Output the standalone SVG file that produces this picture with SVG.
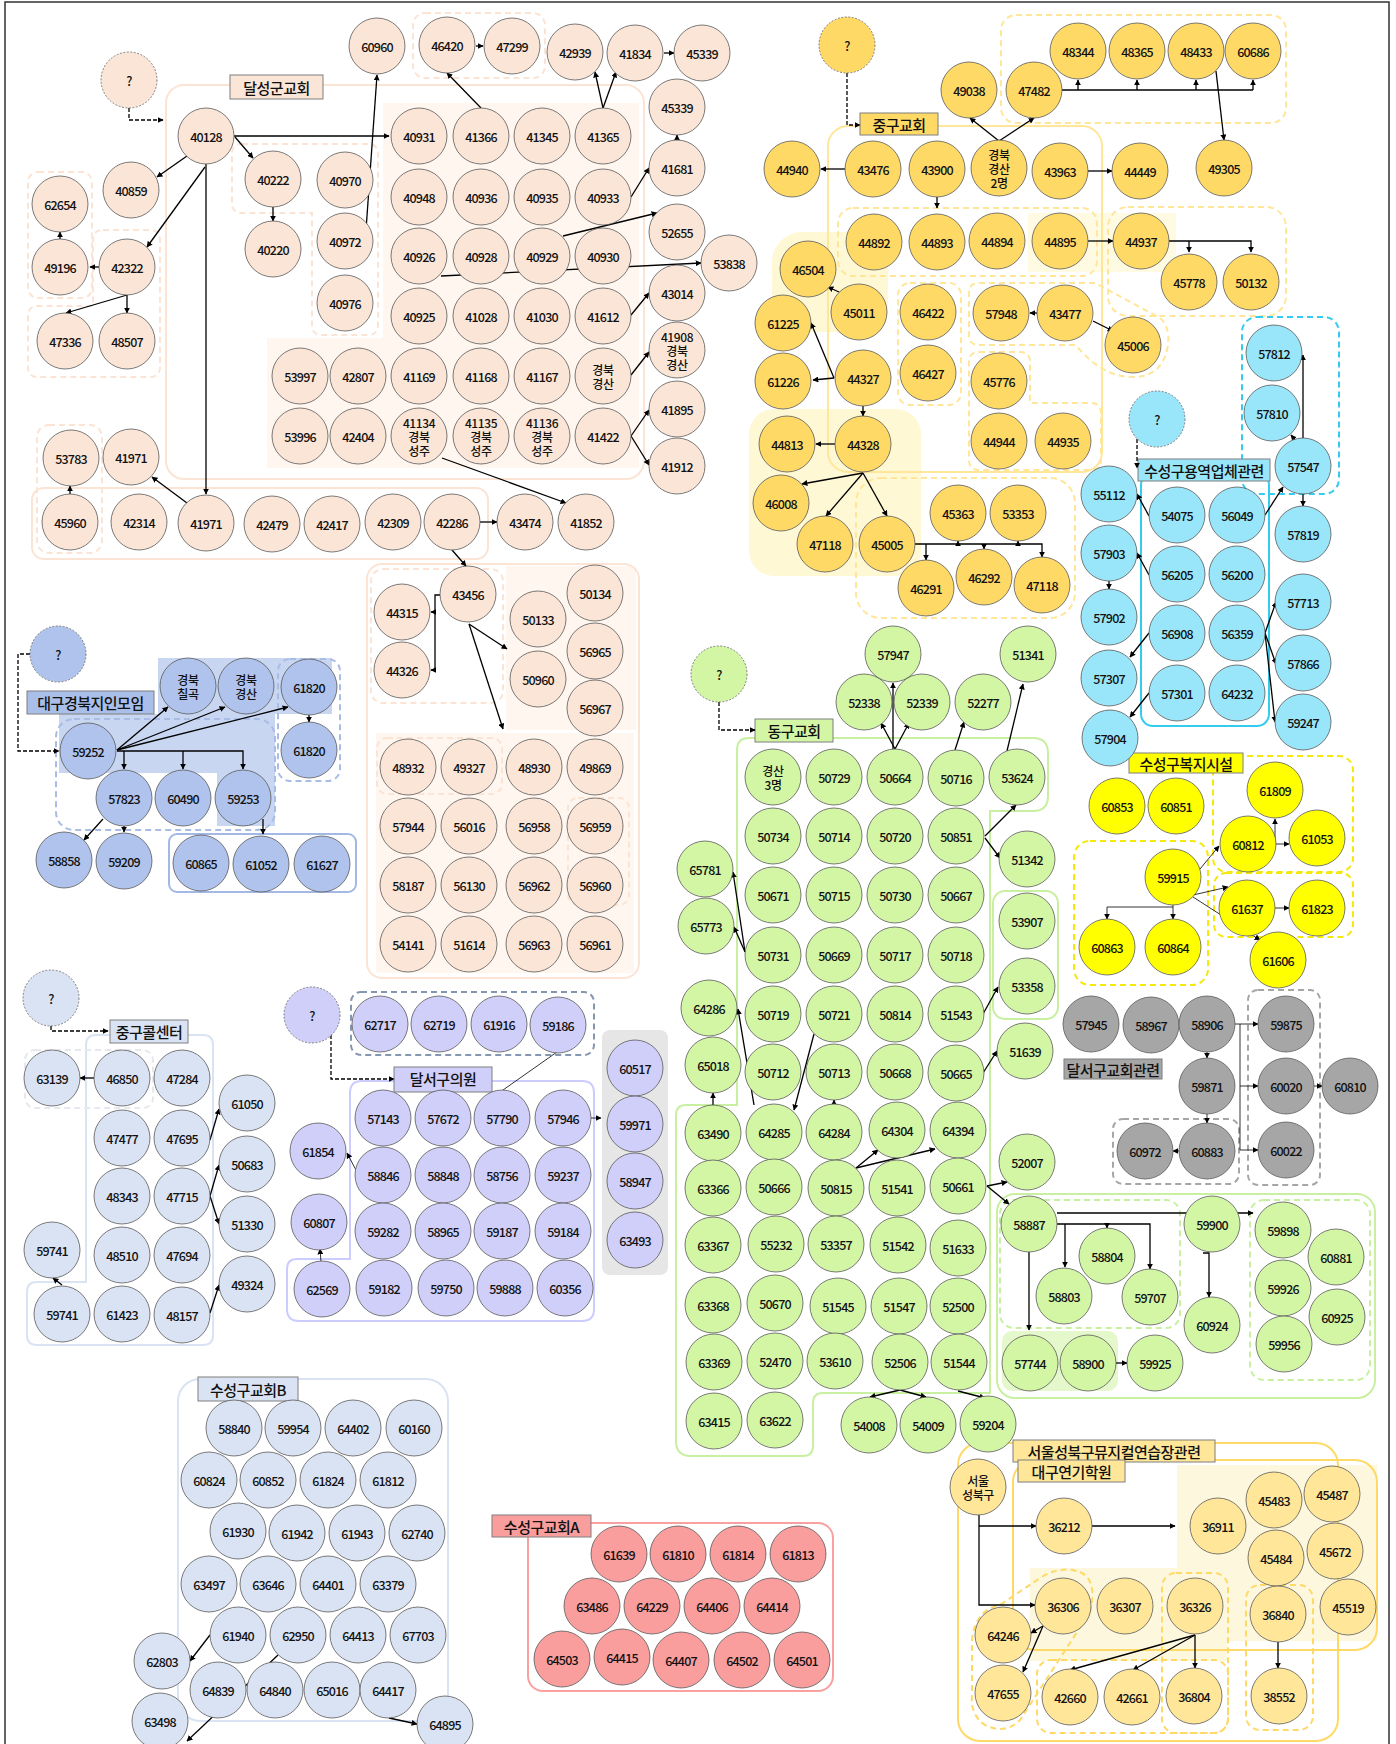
<svg xmlns="http://www.w3.org/2000/svg" width="1396" height="1744" viewBox="0 0 1396 1744">
<defs>
<marker id="a" viewBox="0 0 10 10" refX="9" refY="5" markerWidth="6" markerHeight="6" markerUnits="userSpaceOnUse" orient="auto"><path d="M0,0L10,5L0,10z" fill="#000"/></marker>
<style>
circle{stroke:#595959;stroke-width:0.8}
.pe circle{fill:#FBE5D6}.yo circle{fill:#FFD966}.cy circle{fill:#99E6FA}.bl circle{fill:#AFC3EC}
.lb circle{fill:#DAE3F3}.pu circle{fill:#CFCFFA}.gr circle{fill:#D3F6A5}.ye circle{fill:#FFFF00}
.gy circle{fill:#A6A6A6}.rd circle{fill:#F99D9D}.ly circle{fill:#FFE699}
.q circle{stroke-dasharray:2 1.5;stroke:#666}
text{font-family:"Noto Sans CJK KR","Liberation Sans",sans-serif;font-size:12.5px;font-weight:500;letter-spacing:-0.8px;text-anchor:middle;dominant-baseline:central;fill:#111}
.k text{font-size:12px;letter-spacing:-0.4px}
.lab text{font-size:15px;letter-spacing:-0.5px}
.lab rect{stroke:#7F7F7F;stroke-width:1}
.e path{fill:none;stroke:#000;stroke-width:1.3;marker-end:url(#a)}
.e path.d{stroke-dasharray:4 2}
.e path.t{stroke-width:0.8}
.e path.n{marker-end:none}
.c{fill:none;stroke-width:2}
.dd{stroke-dasharray:6 4}
</style>
</defs>
<rect x="5" y="2" width="1384" height="1770" fill="#fff" stroke="#333" stroke-width="1.5"/>

<g id="containers">
<path d="M383,103 H639 V468 H267 V338 H383 Z" fill="#FEF6EF"/>
<rect x="166" y="85" width="478" height="394" rx="18" class="c" stroke="#FCE4D4"/>
<path d="M242,144 H368 Q378,144 378,154 V325 Q378,335 368,335 H322 Q312,335 312,325 V213 H242 Q232,213 232,203 V154 Q232,144 242,144 Z" class="c dd" stroke="#FCE4D4" stroke-width="1.5"/>
<rect x="28" y="172" width="64" height="126" rx="10" class="c dd" stroke="#FCE4D4" stroke-width="1.5"/>
<path d="M103,230 H150 Q160,230 160,240 V367 Q160,377 150,377 H38 Q28,377 28,367 V316 Q28,306 38,306 H93 V240 Q93,230 103,230 Z" class="c dd" stroke="#FCE4D4" stroke-width="1.5"/>
<rect x="413" y="13" width="132" height="65" rx="12" class="c dd" stroke="#FCE4D4" stroke-width="1.5"/>
<rect x="32" y="488" width="456" height="71" rx="12" class="c" stroke="#FCE4D4"/>
<rect x="37" y="425" width="65" height="128" rx="12" class="c dd" stroke="#FCE4D4" stroke-width="1.5"/>
<rect x="506" y="566" width="130" height="164" fill="#FEF6EF"/>
<rect x="376" y="733" width="258" height="240" fill="#FEF6EF"/>
<rect x="367" y="564" width="272" height="414" rx="15" class="c" stroke="#FCE4D4"/>
<rect x="371" y="569" width="132" height="134" rx="12" class="c dd" stroke="#FCE4D4" stroke-width="1.5"/>
<rect x="377" y="738" width="125" height="56" rx="10" class="c dd" stroke="#FCE4D4" stroke-width="1.5"/>
<rect x="568" y="798" width="61" height="107" rx="10" class="c dd" stroke="#FCE4D4" stroke-width="1.5"/>
<rect x="772" y="232" width="116" height="100" rx="30" fill="#FFF8D4"/>
<rect x="749" y="409" width="172" height="167" rx="25" fill="#FFF8D4"/>
<rect x="1028" y="213" width="148" height="59" fill="#FFFBE2"/>
<rect x="828" y="126" width="274" height="346" rx="20" class="c" stroke="#FFE699"/>
<rect x="838" y="208" width="259" height="68" rx="15" class="c dd" stroke="#FFE699"/>
<rect x="1001" y="15" width="285" height="108" rx="15" class="c dd" stroke="#FFE699"/>
<rect x="1108" y="207" width="178" height="109" rx="20" class="c dd" stroke="#FFE699"/>
<rect x="898" y="283" width="63" height="122" rx="12" class="c dd" stroke="#FFE699"/>
<path d="M979,283 H1095 L1160,318 Q1170,326 1168,345 Q1163,377 1133,377 Q1110,377 1090,360 L1075,345 H979 Q969,345 969,335 V293 Q969,283 979,283 Z" class="c dd" stroke="#FFE699"/>
<path d="M979,352 H1020 Q1030,352 1030,362 V403 H1091 Q1101,403 1101,413 V460 Q1101,470 1091,470 H979 Q969,470 969,460 V362 Q969,352 979,352 Z" class="c dd" stroke="#FFE699"/>
<rect x="856" y="478" width="219" height="140" rx="25" class="c dd" stroke="#FFE699"/>
<rect x="1141" y="473" width="128" height="253" rx="12" class="c" stroke="#33CCEE"/>
<rect x="1242" y="317" width="97" height="177" rx="15" class="c dd" stroke="#33CCEE"/>
<path d="M158,658 H332 V714 H275 V826 H217 V773 H59 V714 H158 Z" fill="#C8D6F1"/>
<rect x="56" y="719" width="219" height="111" rx="18" class="c dd" stroke="#A9BCE6"/>
<rect x="278" y="659" width="62" height="122" rx="12" class="c dd" stroke="#A9BCE6"/>
<rect x="169" y="834" width="187" height="58" rx="8" class="c" stroke="#A3B8E5"/>
<path d="M749,738 H1033 Q1048,738 1048,753 V796 Q1048,811 1033,811 H990 V1393 H823 Q813,1393 813,1403 V1446 Q813,1456 803,1456 H691 Q676,1456 676,1441 V1115 Q676,1105 686,1105 H737 V750 Q737,738 749,738 Z" class="c" stroke="#C8F0A0"/>
<rect x="993" y="891" width="65" height="128" rx="12" class="c" stroke="#C8F0A0" stroke-width="1.5"/>
<rect x="1002" y="1331" width="116" height="60" rx="10" fill="#E4F8CC"/>
<rect x="997" y="1194" width="378" height="204" rx="18" class="c" stroke="#C8F0A0"/>
<rect x="1000" y="1200" width="180" height="128" rx="14" class="c dd" stroke="#C8F0A0" stroke-width="1.5"/>
<rect x="1250" y="1200" width="120" height="180" rx="14" class="c dd" stroke="#C8F0A0" stroke-width="1.5"/>
<rect x="1213" y="756" width="140" height="116" rx="14" class="c dd" stroke="#F5E80A"/>
<rect x="1214" y="873" width="139" height="64" rx="12" class="c dd" stroke="#F5E80A"/>
<rect x="1074" y="841" width="134" height="144" rx="16" class="c dd" stroke="#F5E80A"/>
<rect x="1248" y="990" width="72" height="195" rx="10" class="c dd" stroke="#A6A6A6"/>
<rect x="1113" y="1119" width="126" height="65" rx="10" class="c dd" stroke="#A6A6A6"/>
<path d="M96,1035 H203 Q213,1035 213,1045 V1335 Q213,1345 203,1345 H37 Q27,1345 27,1335 V1292 Q27,1282 37,1282 H86 V1045 Q86,1035 96,1035 Z" class="c" stroke="#DAE3F3"/>
<rect x="25" y="1050" width="128" height="58" rx="10" class="c dd" stroke="#E6E8EE" stroke-width="1"/>
<rect x="602" y="1030" width="66" height="245" rx="8" fill="#E7E6E6"/>
<rect x="351" y="992" width="243" height="63" rx="10" class="c dd" stroke="#8497B0"/>
<path d="M362,1081 H582 Q594,1081 594,1093 V1309 Q594,1321 582,1321 H299 Q287,1321 287,1309 V1269 Q287,1259 297,1259 H350 V1093 Q350,1081 362,1081 Z" class="c" stroke="#CCCCFF"/>
<rect x="178" y="1379" width="270" height="342" rx="22" class="c" stroke="#DAE3F3"/>
<rect x="528" y="1523" width="305" height="168" rx="15" class="c" stroke="#F9A0A0"/>
<rect x="1177" y="1465" width="200" height="176" fill="#FDF8DD"/>
<rect x="1030" y="1568" width="197" height="93" fill="#FDF8DD"/>
<rect x="958" y="1443" width="380" height="298" rx="22" class="c" stroke="#FFD966"/>
<rect x="1013" y="1460" width="364" height="190" rx="22" class="c" stroke="#FFD966"/>
<path d="M1080,1572 Q1098,1580 1090,1612 L1020,1720 Q1005,1735 985,1725 Q970,1715 972,1695 V1640 Q975,1610 1000,1605 L1040,1578 Q1060,1565 1080,1572 Z" class="c dd" stroke="#FFD966"/>
<rect x="1037" y="1660" width="191" height="73" rx="14" class="c dd" stroke="#FFD966"/>
<rect x="1162" y="1573" width="66" height="160" rx="14" class="c dd" stroke="#FFD966"/>
<rect x="1246" y="1585" width="67" height="145" rx="14" class="c dd" stroke="#FFD966"/>
</g>

<g id="labels" class="lab">
<g id="l-dalseong"><rect x="230" y="75" width="93" height="24" fill="#FBE5D6"/><text x="276.5" y="87">달성군교회</text></g>
<g id="l-junggu"><rect x="860" y="113" width="78" height="22" fill="#FFD966"/><text x="899" y="124">중구교회</text></g>
<g id="l-yongyeok"><rect x="1138" y="459" width="132" height="22" fill="#99E6FA"/><text x="1204" y="470">수성구용역업체관련</text></g>
<g id="l-bokji"><rect x="1129" y="753" width="114" height="20" fill="#FFFF00"/><text x="1186" y="763">수성구복지시설</text></g>
<g id="l-daegu"><rect x="27" y="691" width="127" height="23" fill="#A9BFEA"/><text x="90.5" y="702.5">대구경북지인모임</text></g>
<g id="l-donggu"><rect x="755" y="719" width="78" height="23" fill="#D3F6A5"/><text x="794" y="730.5">동구교회</text></g>
<g id="l-dalseo"><rect x="1064" y="1059" width="98" height="20" fill="#A6A6A6"/><text x="1113" y="1069">달서구교회관련</text></g>
<g id="l-call"><rect x="110" y="1020" width="78" height="23" fill="#DAE3F3"/><text x="149" y="1031.5">중구콜센터</text></g>
<g id="l-uiwon"><rect x="394" y="1067" width="98" height="25" fill="#CFCFFA"/><text x="443" y="1078">달서구의원</text></g>
<g id="l-b"><rect x="198" y="1377" width="100" height="24" fill="#DAE3F3"/><text x="248" y="1389">수성구교회B</text></g>
<g id="l-a"><rect x="492" y="1515" width="99" height="22" fill="#F99D9D"/><text x="541.5" y="1526">수성구교회A</text></g>
<g id="l-seoul"><rect x="1013" y="1440" width="202" height="22" fill="#FFE699"/><text x="1114" y="1451">서울성북구뮤지컬연습장관련</text></g>
<g id="l-acting"><rect x="1018" y="1460" width="107" height="22" fill="#FFE699"/><text x="1071.5" y="1471">대구연기학원</text></g>
</g>

<g id="edges" class="e">
<path class="d" d="M129,108 V120 H163"/>
<path d="M234,136 H389"/>
<path d="M235,137 L253,158"/>
<path d="M187,156 L157,177"/>
<path d="M205,167 L147,247"/>
<path d="M206,164 V494"/>
<path d="M273,207 V221"/>
<path d="M366,230 L377,75"/>
<path d="M99,267 H90"/>
<path d="M60,239 V232"/>
<path d="M127,295 L66,313"/>
<path d="M127,295 V313"/>
<path d="M481,108 L447,73"/>
<path d="M476,46 H483"/>
<path d="M603,108 L595,72"/>
<path d="M603,108 L616,72"/>
<path d="M664,53 H674"/>
<path d="M677,140 V135"/>
<path d="M631,197 L649,168"/>
<path d="M563,236 L657,213"/>
<path d="M441,276 L701,263"/>
<path d="M631,315 L649,293"/>
<path d="M631,375 L649,352"/>
<path d="M631,436 L649,410"/>
<path d="M631,436 L649,465"/>
<path d="M442,458 L566,503"/>
<path d="M187,503 L152,477"/>
<path d="M70,494 V486"/>
<path d="M480,522 H497"/>
<path d="M452,550 L466,566"/>
<path d="M440,595 H435 V670 H431"/>
<path d="M435,612 H431"/>
<path d="M469,624 L507,649"/>
<path d="M469,624 L503,729"/>
<path class="d" d="M847,73 V125 H860"/>
<path d="M845,169 H821"/>
<path d="M937,197 V208"/>
<path d="M999,141 L970,118"/>
<path d="M999,141 L1034,118"/>
<path class="n" d="M1062,90 H1253"/>
<path d="M1078,90 V80"/><path d="M1137,90 V80"/><path d="M1196,90 V80"/><path d="M1253,90 V80"/>
<path d="M1216,71 L1224,140"/>
<path d="M1088,171 H1112"/>
<path d="M1088,241 H1113"/>
<path d="M1169,241 H1251 V252"/>
<path d="M1189,241 V252"/>
<path d="M1037,313 H1030"/>
<path d="M1093,321 L1113,331"/>
<path d="M839,292 L828,287"/>
<path d="M834,378 L811,323"/>
<path d="M834,378 L813,380"/>
<path d="M863,406 V416"/>
<path d="M835,444 H816"/>
<path d="M863,473 L802,484"/>
<path d="M863,473 L826,516"/>
<path d="M863,473 L887,516"/>
<path d="M915,544 H1042 V557"/>
<path d="M926,544 V560"/><path d="M984,544 V549"/><path d="M958,544 V541"/><path d="M1018,544 V541"/>
<path class="d" d="M1137,439 V468"/>
<path d="M1149,516 L1137,494"/>
<path d="M1149,575 L1137,553"/>
<path d="M1109,581 V589"/>
<path d="M1149,633 L1130,657"/>
<path d="M1149,693 L1130,717"/>
<path d="M1265,515 L1283,487"/>
<path d="M1303,494 V506"/>
<path d="M1303,438 V355"/>
<path d="M1296,441 L1291,435"/>
<path d="M1265,633 L1276,602"/>
<path d="M1265,633 L1276,664"/>
<path d="M1265,633 L1275,722"/>
<path class="d" d="M30,654 H18 V751 H59"/>
<path d="M117,750 L168,707"/>
<path d="M117,750 L225,707"/>
<path d="M117,750 L288,707"/>
<path d="M117,751 H243 V769"/>
<path d="M124,751 V769"/><path d="M183,751 V769"/>
<path d="M103,819 L84,840"/>
<path d="M124,826 V832"/>
<path d="M263,819 V834"/>
<path d="M309,715 V722"/>
<path class="d" d="M719,702 V730 H755"/>
<path d="M895,749 L881,723"/>
<path d="M893,749 V683"/>
<path d="M895,749 L909,723"/>
<path d="M955,750 L964,722"/>
<path d="M1007,751 L1023,684"/>
<path d="M985,836 L1016,805"/>
<path d="M985,838 L1000,858"/>
<path d="M745,952 L733,872"/>
<path d="M745,952 L734,927"/>
<path d="M754,1105 L738,1009"/>
<path d="M814,1034 L794,1110"/>
<path d="M713,1105 V1093"/>
<path d="M834,1104 V1100"/>
<path d="M856,1168 L878,1150"/>
<path d="M856,1168 L935,1149"/>
<path d="M983,1014 L998,987"/>
<path d="M983,1073 L997,1051"/>
<path d="M987,1186 L1007,1182"/>
<path d="M987,1186 L1009,1204"/>
<path d="M1057,1213 H1253"/>
<path d="M1057,1224 H1150 V1269"/>
<path d="M1065,1224 V1267"/><path d="M1107,1224 V1228"/>
<path d="M1029,1252 V1330"/>
<path d="M1203,1253 H1209 V1297"/>
<path d="M1116,1363 H1127"/>
<path d="M900,1390 L870,1397"/>
<path d="M900,1390 L926,1397"/>
<path d="M958,1391 L985,1398"/>
<path class="t" d="M1275,844 V819"/>
<path class="t" d="M1275,844 H1289"/>
<path class="t" d="M1200,869 L1219,846"/>
<path class="t" d="M1193,895 L1228,887"/>
<path class="t" d="M1193,897 L1260,940"/>
<path class="t" d="M1275,908 H1289"/>
<path class="t" d="M1173,905 V919"/>
<path class="t" d="M1173,907 H1107 V919"/>
<path class="t" d="M1235,1024 H1258"/>
<path class="t" d="M1240,1024 V1150 H1258"/>
<path class="t" d="M1240,1086 H1258"/>
<path class="t" d="M1207,1052 V1058"/>
<path class="t" d="M1207,1114 V1123"/>
<path class="t" d="M1314,1086 H1322"/>
<path class="t" d="M1179,1151 H1173" stroke="#C8C8A0"/>
<path class="d" d="M51,1026 V1031 H108"/>
<path d="M94,1078 H80"/>
<path d="M210,1140 L219,1109"/>
<path d="M210,1196 L219,1165"/>
<path d="M210,1196 L219,1224"/>
<path d="M210,1313 L219,1285"/>
<path d="M62,1285 L53,1278"/>
<path class="d" d="M331,1035 V1079 H394"/>
<path class="t n" d="M503,1090 L557,1052" stroke="#555"/>
<path class="t" d="M590,1118 H601"/>
<path class="t" d="M357,1172 L347,1153" stroke="#555"/>
<path class="t" d="M321,1262 L320,1249"/>
<path d="M210,1635 L190,1661"/>
<path d="M278,1655 L187,1741"/>
<path d="M389,1718 L417,1724"/>
<path d="M979,1515 V1605 H1035"/>
<path d="M979,1526 H1036"/>
<path d="M1092,1526 H1175"/>
<path d="M1043,1626 L1031,1633"/>
<path d="M1043,1626 L1023,1672"/>
<path d="M1195,1635 L1070,1670"/>
<path d="M1195,1635 L1133,1670"/>
<path d="M1195,1635 V1668"/>
<path d="M1278,1642 V1668"/>
</g>

<g id="nodes">
<g id="n-q1" class="pe q"><circle cx="129" cy="80" r="28"/><text x="129" y="80">?</text></g>
<g id="n-40128" class="pe"><circle cx="206" cy="136" r="28"/><text x="206" y="136">40128</text></g>
<g id="n-40859" class="pe"><circle cx="131" cy="190" r="28"/><text x="131" y="190">40859</text></g>
<g id="n-62654" class="pe"><circle cx="60" cy="204" r="28"/><text x="60" y="204">62654</text></g>
<g id="n-49196" class="pe"><circle cx="60" cy="267" r="28"/><text x="60" y="267">49196</text></g>
<g id="n-42322" class="pe"><circle cx="127" cy="267" r="28"/><text x="127" y="267">42322</text></g>
<g id="n-47336" class="pe"><circle cx="65" cy="341" r="28"/><text x="65" y="341">47336</text></g>
<g id="n-48507" class="pe"><circle cx="127" cy="341" r="28"/><text x="127" y="341">48507</text></g>
<g id="n-40222" class="pe"><circle cx="273" cy="179" r="28"/><text x="273" y="179">40222</text></g>
<g id="n-40220" class="pe"><circle cx="273" cy="249" r="28"/><text x="273" y="249">40220</text></g>
<g id="n-40970" class="pe"><circle cx="345" cy="180" r="28"/><text x="345" y="180">40970</text></g>
<g id="n-40972" class="pe"><circle cx="345" cy="241" r="28"/><text x="345" y="241">40972</text></g>
<g id="n-40976" class="pe"><circle cx="345" cy="303" r="28"/><text x="345" y="303">40976</text></g>
<g id="n-60960" class="pe"><circle cx="377" cy="46" r="28"/><text x="377" y="46">60960</text></g>
<g id="n-46420" class="pe"><circle cx="447" cy="45" r="28"/><text x="447" y="45">46420</text></g>
<g id="n-47299" class="pe"><circle cx="512" cy="46" r="28"/><text x="512" y="46">47299</text></g>
<g id="n-42939" class="pe"><circle cx="575" cy="52" r="28"/><text x="575" y="52">42939</text></g>
<g id="n-41834" class="pe"><circle cx="635" cy="53" r="28"/><text x="635" y="53">41834</text></g>
<g id="n-45339" class="pe"><circle cx="702" cy="53" r="28"/><text x="702" y="53">45339</text></g>
<g id="n-45339b" class="pe"><circle cx="677" cy="107" r="28"/><text x="677" y="107">45339</text></g>
<g id="n-40931" class="pe"><circle cx="419" cy="136" r="28"/><text x="419" y="136">40931</text></g>
<g id="n-41366" class="pe"><circle cx="481" cy="136" r="28"/><text x="481" y="136">41366</text></g>
<g id="n-41345" class="pe"><circle cx="542" cy="136" r="28"/><text x="542" y="136">41345</text></g>
<g id="n-41365" class="pe"><circle cx="603" cy="136" r="28"/><text x="603" y="136">41365</text></g>
<g id="n-41681" class="pe"><circle cx="677" cy="168" r="28"/><text x="677" y="168">41681</text></g>
<g id="n-40948" class="pe"><circle cx="419" cy="197" r="28"/><text x="419" y="197">40948</text></g>
<g id="n-40936" class="pe"><circle cx="481" cy="197" r="28"/><text x="481" y="197">40936</text></g>
<g id="n-40935" class="pe"><circle cx="542" cy="197" r="28"/><text x="542" y="197">40935</text></g>
<g id="n-40933" class="pe"><circle cx="603" cy="197" r="28"/><text x="603" y="197">40933</text></g>
<g id="n-52655" class="pe"><circle cx="677" cy="232" r="28"/><text x="677" y="232">52655</text></g>
<g id="n-40926" class="pe"><circle cx="419" cy="256" r="28"/><text x="419" y="256">40926</text></g>
<g id="n-40928" class="pe"><circle cx="481" cy="256" r="28"/><text x="481" y="256">40928</text></g>
<g id="n-40929" class="pe"><circle cx="542" cy="256" r="28"/><text x="542" y="256">40929</text></g>
<g id="n-40930" class="pe"><circle cx="603" cy="256" r="28"/><text x="603" y="256">40930</text></g>
<g id="n-53838" class="pe"><circle cx="729" cy="263" r="28"/><text x="729" y="263">53838</text></g>
<g id="n-43014" class="pe"><circle cx="677" cy="293" r="28"/><text x="677" y="293">43014</text></g>
<g id="n-40925" class="pe"><circle cx="419" cy="316" r="28"/><text x="419" y="316">40925</text></g>
<g id="n-41028" class="pe"><circle cx="481" cy="316" r="28"/><text x="481" y="316">41028</text></g>
<g id="n-41030" class="pe"><circle cx="542" cy="316" r="28"/><text x="542" y="316">41030</text></g>
<g id="n-41612" class="pe"><circle cx="603" cy="316" r="28"/><text x="603" y="316">41612</text></g>
<g id="n-41908" class="pe k"><circle cx="677" cy="350" r="28"/><text x="677" y="336">41908<tspan x="677" dy="14">경북</tspan><tspan x="677" dy="14">경산</tspan></text></g>
<g id="n-53997" class="pe"><circle cx="300" cy="376" r="28"/><text x="300" y="376">53997</text></g>
<g id="n-42807" class="pe"><circle cx="358" cy="376" r="28"/><text x="358" y="376">42807</text></g>
<g id="n-41169" class="pe"><circle cx="419" cy="376" r="28"/><text x="419" y="376">41169</text></g>
<g id="n-41168" class="pe"><circle cx="481" cy="376" r="28"/><text x="481" y="376">41168</text></g>
<g id="n-41167" class="pe"><circle cx="542" cy="376" r="28"/><text x="542" y="376">41167</text></g>
<g id="n-gs1" class="pe k"><circle cx="603" cy="376" r="28"/><text x="603" y="369">경북<tspan x="603" dy="14">경산</tspan></text></g>
<g id="n-41895" class="pe"><circle cx="677" cy="409" r="28"/><text x="677" y="409">41895</text></g>
<g id="n-53996" class="pe"><circle cx="300" cy="436" r="28"/><text x="300" y="436">53996</text></g>
<g id="n-42404" class="pe"><circle cx="358" cy="436" r="28"/><text x="358" y="436">42404</text></g>
<g id="n-41134" class="pe k"><circle cx="419" cy="436" r="28"/><text x="419" y="422">41134<tspan x="419" dy="14">경북</tspan><tspan x="419" dy="14">성주</tspan></text></g>
<g id="n-41135" class="pe k"><circle cx="481" cy="436" r="28"/><text x="481" y="422">41135<tspan x="481" dy="14">경북</tspan><tspan x="481" dy="14">성주</tspan></text></g>
<g id="n-41136" class="pe k"><circle cx="542" cy="436" r="28"/><text x="542" y="422">41136<tspan x="542" dy="14">경북</tspan><tspan x="542" dy="14">성주</tspan></text></g>
<g id="n-41422" class="pe"><circle cx="603" cy="436" r="28"/><text x="603" y="436">41422</text></g>
<g id="n-41912" class="pe"><circle cx="677" cy="466" r="28"/><text x="677" y="466">41912</text></g>
<g id="n-53783" class="pe"><circle cx="71" cy="458" r="28"/><text x="71" y="458">53783</text></g>
<g id="n-41971" class="pe"><circle cx="131" cy="457" r="28"/><text x="131" y="457">41971</text></g>
<g id="n-45960" class="pe"><circle cx="70" cy="522" r="28"/><text x="70" y="522">45960</text></g>
<g id="n-42314" class="pe"><circle cx="139" cy="522" r="28"/><text x="139" y="522">42314</text></g>
<g id="n-41971b" class="pe"><circle cx="206" cy="523" r="28"/><text x="206" y="523">41971</text></g>
<g id="n-42479" class="pe"><circle cx="272" cy="524" r="28"/><text x="272" y="524">42479</text></g>
<g id="n-42417" class="pe"><circle cx="332" cy="524" r="28"/><text x="332" y="524">42417</text></g>
<g id="n-42309" class="pe"><circle cx="393" cy="522" r="28"/><text x="393" y="522">42309</text></g>
<g id="n-42286" class="pe"><circle cx="452" cy="522" r="28"/><text x="452" y="522">42286</text></g>
<g id="n-43474" class="pe"><circle cx="525" cy="522" r="28"/><text x="525" y="522">43474</text></g>
<g id="n-41852" class="pe"><circle cx="586" cy="522" r="28"/><text x="586" y="522">41852</text></g>
<g id="n-43456" class="pe"><circle cx="468" cy="594" r="28"/><text x="468" y="594">43456</text></g>
<g id="n-44315" class="pe"><circle cx="402" cy="612" r="28"/><text x="402" y="612">44315</text></g>
<g id="n-44326" class="pe"><circle cx="402" cy="670" r="28"/><text x="402" y="670">44326</text></g>
<g id="n-50133" class="pe"><circle cx="538" cy="619" r="28"/><text x="538" y="619">50133</text></g>
<g id="n-50134" class="pe"><circle cx="595" cy="593" r="28"/><text x="595" y="593">50134</text></g>
<g id="n-56965" class="pe"><circle cx="595" cy="651" r="28"/><text x="595" y="651">56965</text></g>
<g id="n-50960" class="pe"><circle cx="538" cy="679" r="28"/><text x="538" y="679">50960</text></g>
<g id="n-56967" class="pe"><circle cx="595" cy="708" r="28"/><text x="595" y="708">56967</text></g>
<g id="n-48932" class="pe"><circle cx="408" cy="767" r="28"/><text x="408" y="767">48932</text></g>
<g id="n-49327" class="pe"><circle cx="469" cy="767" r="28"/><text x="469" y="767">49327</text></g>
<g id="n-48930" class="pe"><circle cx="534" cy="767" r="28"/><text x="534" y="767">48930</text></g>
<g id="n-49869" class="pe"><circle cx="595" cy="767" r="28"/><text x="595" y="767">49869</text></g>
<g id="n-57944" class="pe"><circle cx="408" cy="826" r="28"/><text x="408" y="826">57944</text></g>
<g id="n-56016" class="pe"><circle cx="469" cy="826" r="28"/><text x="469" y="826">56016</text></g>
<g id="n-56958" class="pe"><circle cx="534" cy="826" r="28"/><text x="534" y="826">56958</text></g>
<g id="n-56959" class="pe"><circle cx="595" cy="826" r="28"/><text x="595" y="826">56959</text></g>
<g id="n-58187" class="pe"><circle cx="408" cy="885" r="28"/><text x="408" y="885">58187</text></g>
<g id="n-56130" class="pe"><circle cx="469" cy="885" r="28"/><text x="469" y="885">56130</text></g>
<g id="n-56962" class="pe"><circle cx="534" cy="885" r="28"/><text x="534" y="885">56962</text></g>
<g id="n-56960" class="pe"><circle cx="595" cy="885" r="28"/><text x="595" y="885">56960</text></g>
<g id="n-54141" class="pe"><circle cx="408" cy="944" r="28"/><text x="408" y="944">54141</text></g>
<g id="n-51614" class="pe"><circle cx="469" cy="944" r="28"/><text x="469" y="944">51614</text></g>
<g id="n-56963" class="pe"><circle cx="534" cy="944" r="28"/><text x="534" y="944">56963</text></g>
<g id="n-56961" class="pe"><circle cx="595" cy="944" r="28"/><text x="595" y="944">56961</text></g>
<g id="n-q2" class="yo q"><circle cx="847" cy="45" r="28"/><text x="847" y="45">?</text></g>
<g id="n-44940" class="yo"><circle cx="792" cy="169" r="28"/><text x="792" y="169">44940</text></g>
<g id="n-43476" class="yo"><circle cx="873" cy="169" r="28"/><text x="873" y="169">43476</text></g>
<g id="n-43900" class="yo"><circle cx="937" cy="169" r="28"/><text x="937" y="169">43900</text></g>
<g id="n-gs2" class="yo k"><circle cx="999" cy="168" r="28"/><text x="999" y="154">경북<tspan x="999" dy="14">경산</tspan><tspan x="999" dy="14">2명</tspan></text></g>
<g id="n-43963" class="yo"><circle cx="1060" cy="171" r="28"/><text x="1060" y="171">43963</text></g>
<g id="n-44449" class="yo"><circle cx="1140" cy="171" r="28"/><text x="1140" y="171">44449</text></g>
<g id="n-49038" class="yo"><circle cx="969" cy="90" r="28"/><text x="969" y="90">49038</text></g>
<g id="n-47482" class="yo"><circle cx="1034" cy="90" r="28"/><text x="1034" y="90">47482</text></g>
<g id="n-48344" class="yo"><circle cx="1078" cy="51" r="28"/><text x="1078" y="51">48344</text></g>
<g id="n-48365" class="yo"><circle cx="1137" cy="51" r="28"/><text x="1137" y="51">48365</text></g>
<g id="n-48433" class="yo"><circle cx="1196" cy="51" r="28"/><text x="1196" y="51">48433</text></g>
<g id="n-60686" class="yo"><circle cx="1253" cy="51" r="28"/><text x="1253" y="51">60686</text></g>
<g id="n-49305" class="yo"><circle cx="1224" cy="168" r="28"/><text x="1224" y="168">49305</text></g>
<g id="n-44892" class="yo"><circle cx="874" cy="242" r="28"/><text x="874" y="242">44892</text></g>
<g id="n-44893" class="yo"><circle cx="937" cy="242" r="28"/><text x="937" y="242">44893</text></g>
<g id="n-44894" class="yo"><circle cx="997" cy="241" r="28"/><text x="997" y="241">44894</text></g>
<g id="n-44895" class="yo"><circle cx="1060" cy="241" r="28"/><text x="1060" y="241">44895</text></g>
<g id="n-44937" class="yo"><circle cx="1141" cy="241" r="28"/><text x="1141" y="241">44937</text></g>
<g id="n-45778" class="yo"><circle cx="1189" cy="282" r="28"/><text x="1189" y="282">45778</text></g>
<g id="n-50132" class="yo"><circle cx="1251" cy="282" r="28"/><text x="1251" y="282">50132</text></g>
<g id="n-46504" class="yo"><circle cx="808" cy="269" r="28"/><text x="808" y="269">46504</text></g>
<g id="n-45011" class="yo"><circle cx="859" cy="312" r="28"/><text x="859" y="312">45011</text></g>
<g id="n-61225" class="yo"><circle cx="783" cy="323" r="28"/><text x="783" y="323">61225</text></g>
<g id="n-61226" class="yo"><circle cx="783" cy="381" r="28"/><text x="783" y="381">61226</text></g>
<g id="n-44327" class="yo"><circle cx="863" cy="378" r="28"/><text x="863" y="378">44327</text></g>
<g id="n-46422" class="yo"><circle cx="928" cy="312" r="28"/><text x="928" y="312">46422</text></g>
<g id="n-46427" class="yo"><circle cx="928" cy="373" r="28"/><text x="928" y="373">46427</text></g>
<g id="n-57948" class="yo"><circle cx="1001" cy="313" r="28"/><text x="1001" y="313">57948</text></g>
<g id="n-43477" class="yo"><circle cx="1065" cy="313" r="28"/><text x="1065" y="313">43477</text></g>
<g id="n-45006" class="yo"><circle cx="1133" cy="345" r="28"/><text x="1133" y="345">45006</text></g>
<g id="n-45776" class="yo"><circle cx="999" cy="381" r="28"/><text x="999" y="381">45776</text></g>
<g id="n-44944" class="yo"><circle cx="999" cy="441" r="28"/><text x="999" y="441">44944</text></g>
<g id="n-44935" class="yo"><circle cx="1063" cy="441" r="28"/><text x="1063" y="441">44935</text></g>
<g id="n-44813" class="yo"><circle cx="787" cy="444" r="28"/><text x="787" y="444">44813</text></g>
<g id="n-44328" class="yo"><circle cx="863" cy="444" r="28"/><text x="863" y="444">44328</text></g>
<g id="n-46008" class="yo"><circle cx="781" cy="503" r="28"/><text x="781" y="503">46008</text></g>
<g id="n-47118" class="yo"><circle cx="825" cy="544" r="28"/><text x="825" y="544">47118</text></g>
<g id="n-45005" class="yo"><circle cx="887" cy="544" r="28"/><text x="887" y="544">45005</text></g>
<g id="n-45363" class="yo"><circle cx="958" cy="513" r="28"/><text x="958" y="513">45363</text></g>
<g id="n-53353" class="yo"><circle cx="1018" cy="513" r="28"/><text x="1018" y="513">53353</text></g>
<g id="n-46291" class="yo"><circle cx="926" cy="588" r="28"/><text x="926" y="588">46291</text></g>
<g id="n-46292" class="yo"><circle cx="984" cy="577" r="28"/><text x="984" y="577">46292</text></g>
<g id="n-47118b" class="yo"><circle cx="1042" cy="585" r="28"/><text x="1042" y="585">47118</text></g>
<g id="n-q3" class="cy q"><circle cx="1157" cy="419" r="28"/><text x="1157" y="419">?</text></g>
<g id="n-57812" class="cy"><circle cx="1274" cy="353" r="28"/><text x="1274" y="353">57812</text></g>
<g id="n-57810" class="cy"><circle cx="1272" cy="413" r="28"/><text x="1272" y="413">57810</text></g>
<g id="n-57547" class="cy"><circle cx="1303" cy="466" r="28"/><text x="1303" y="466">57547</text></g>
<g id="n-55112" class="cy"><circle cx="1109" cy="494" r="28"/><text x="1109" y="494">55112</text></g>
<g id="n-54075" class="cy"><circle cx="1177" cy="515" r="28"/><text x="1177" y="515">54075</text></g>
<g id="n-56049" class="cy"><circle cx="1237" cy="515" r="28"/><text x="1237" y="515">56049</text></g>
<g id="n-57819" class="cy"><circle cx="1303" cy="534" r="28"/><text x="1303" y="534">57819</text></g>
<g id="n-57903" class="cy"><circle cx="1109" cy="553" r="28"/><text x="1109" y="553">57903</text></g>
<g id="n-56205" class="cy"><circle cx="1177" cy="574" r="28"/><text x="1177" y="574">56205</text></g>
<g id="n-56200" class="cy"><circle cx="1237" cy="574" r="28"/><text x="1237" y="574">56200</text></g>
<g id="n-57713" class="cy"><circle cx="1303" cy="602" r="28"/><text x="1303" y="602">57713</text></g>
<g id="n-57902" class="cy"><circle cx="1109" cy="617" r="28"/><text x="1109" y="617">57902</text></g>
<g id="n-56908" class="cy"><circle cx="1177" cy="633" r="28"/><text x="1177" y="633">56908</text></g>
<g id="n-56359" class="cy"><circle cx="1237" cy="633" r="28"/><text x="1237" y="633">56359</text></g>
<g id="n-57866" class="cy"><circle cx="1303" cy="663" r="28"/><text x="1303" y="663">57866</text></g>
<g id="n-57307" class="cy"><circle cx="1109" cy="678" r="28"/><text x="1109" y="678">57307</text></g>
<g id="n-57301" class="cy"><circle cx="1177" cy="693" r="28"/><text x="1177" y="693">57301</text></g>
<g id="n-64232" class="cy"><circle cx="1237" cy="693" r="28"/><text x="1237" y="693">64232</text></g>
<g id="n-59247" class="cy"><circle cx="1303" cy="722" r="28"/><text x="1303" y="722">59247</text></g>
<g id="n-57904" class="cy"><circle cx="1110" cy="738" r="28"/><text x="1110" y="738">57904</text></g>
<g id="n-q4" class="bl q"><circle cx="58" cy="654" r="28"/><text x="58" y="654">?</text></g>
<g id="n-chilgok" class="bl k"><circle cx="188" cy="686" r="28"/><text x="188" y="679">경북<tspan x="188" dy="14">칠곡</tspan></text></g>
<g id="n-gs3" class="bl k"><circle cx="246" cy="686" r="28"/><text x="246" y="679">경북<tspan x="246" dy="14">경산</tspan></text></g>
<g id="n-61820" class="bl"><circle cx="309" cy="687" r="28"/><text x="309" y="687">61820</text></g>
<g id="n-61820b" class="bl"><circle cx="309" cy="750" r="28"/><text x="309" y="750">61820</text></g>
<g id="n-59252" class="bl"><circle cx="88" cy="751" r="28"/><text x="88" y="751">59252</text></g>
<g id="n-57823" class="bl"><circle cx="124" cy="798" r="28"/><text x="124" y="798">57823</text></g>
<g id="n-60490" class="bl"><circle cx="183" cy="798" r="28"/><text x="183" y="798">60490</text></g>
<g id="n-59253" class="bl"><circle cx="243" cy="798" r="28"/><text x="243" y="798">59253</text></g>
<g id="n-58858" class="bl"><circle cx="64" cy="860" r="28"/><text x="64" y="860">58858</text></g>
<g id="n-59209" class="bl"><circle cx="124" cy="861" r="28"/><text x="124" y="861">59209</text></g>
<g id="n-60865" class="bl"><circle cx="201" cy="863" r="28"/><text x="201" y="863">60865</text></g>
<g id="n-61052" class="bl"><circle cx="261" cy="864" r="28"/><text x="261" y="864">61052</text></g>
<g id="n-61627" class="bl"><circle cx="322" cy="864" r="28"/><text x="322" y="864">61627</text></g>
<g id="n-q5" class="gr q"><circle cx="719" cy="674" r="28"/><text x="719" y="674">?</text></g>
<g id="n-57947" class="gr"><circle cx="893" cy="654" r="28"/><text x="893" y="654">57947</text></g>
<g id="n-52338" class="gr"><circle cx="864" cy="702" r="28"/><text x="864" y="702">52338</text></g>
<g id="n-52339" class="gr"><circle cx="922" cy="702" r="28"/><text x="922" y="702">52339</text></g>
<g id="n-52277" class="gr"><circle cx="983" cy="702" r="28"/><text x="983" y="702">52277</text></g>
<g id="n-51341" class="gr"><circle cx="1028" cy="654" r="28"/><text x="1028" y="654">51341</text></g>
<g id="n-gs4" class="gr k"><circle cx="773" cy="777" r="28"/><text x="773" y="770">경산<tspan x="773" dy="14">3명</tspan></text></g>
<g id="n-50729" class="gr"><circle cx="834" cy="777" r="28"/><text x="834" y="777">50729</text></g>
<g id="n-50664" class="gr"><circle cx="895" cy="777" r="28"/><text x="895" y="777">50664</text></g>
<g id="n-50716" class="gr"><circle cx="956" cy="778" r="28"/><text x="956" y="778">50716</text></g>
<g id="n-53624" class="gr"><circle cx="1017" cy="777" r="28"/><text x="1017" y="777">53624</text></g>
<g id="n-50734" class="gr"><circle cx="773" cy="836" r="28"/><text x="773" y="836">50734</text></g>
<g id="n-50714" class="gr"><circle cx="834" cy="836" r="28"/><text x="834" y="836">50714</text></g>
<g id="n-50720" class="gr"><circle cx="895" cy="836" r="28"/><text x="895" y="836">50720</text></g>
<g id="n-50851" class="gr"><circle cx="956" cy="836" r="28"/><text x="956" y="836">50851</text></g>
<g id="n-51342" class="gr"><circle cx="1027" cy="859" r="28"/><text x="1027" y="859">51342</text></g>
<g id="n-65781" class="gr"><circle cx="705" cy="869" r="28"/><text x="705" y="869">65781</text></g>
<g id="n-50671" class="gr"><circle cx="773" cy="895" r="28"/><text x="773" y="895">50671</text></g>
<g id="n-50715" class="gr"><circle cx="834" cy="895" r="28"/><text x="834" y="895">50715</text></g>
<g id="n-50730" class="gr"><circle cx="895" cy="895" r="28"/><text x="895" y="895">50730</text></g>
<g id="n-50667" class="gr"><circle cx="956" cy="895" r="28"/><text x="956" y="895">50667</text></g>
<g id="n-65773" class="gr"><circle cx="706" cy="926" r="28"/><text x="706" y="926">65773</text></g>
<g id="n-50731" class="gr"><circle cx="773" cy="955" r="28"/><text x="773" y="955">50731</text></g>
<g id="n-50669" class="gr"><circle cx="834" cy="955" r="28"/><text x="834" y="955">50669</text></g>
<g id="n-50717" class="gr"><circle cx="895" cy="955" r="28"/><text x="895" y="955">50717</text></g>
<g id="n-50718" class="gr"><circle cx="956" cy="955" r="28"/><text x="956" y="955">50718</text></g>
<g id="n-53907" class="gr"><circle cx="1027" cy="921" r="28"/><text x="1027" y="921">53907</text></g>
<g id="n-53358" class="gr"><circle cx="1027" cy="986" r="28"/><text x="1027" y="986">53358</text></g>
<g id="n-64286" class="gr"><circle cx="709" cy="1008" r="28"/><text x="709" y="1008">64286</text></g>
<g id="n-50719" class="gr"><circle cx="773" cy="1014" r="28"/><text x="773" y="1014">50719</text></g>
<g id="n-50721" class="gr"><circle cx="834" cy="1014" r="28"/><text x="834" y="1014">50721</text></g>
<g id="n-50814" class="gr"><circle cx="895" cy="1014" r="28"/><text x="895" y="1014">50814</text></g>
<g id="n-51543" class="gr"><circle cx="956" cy="1014" r="28"/><text x="956" y="1014">51543</text></g>
<g id="n-51639" class="gr"><circle cx="1025" cy="1051" r="28"/><text x="1025" y="1051">51639</text></g>
<g id="n-65018" class="gr"><circle cx="713" cy="1065" r="28"/><text x="713" y="1065">65018</text></g>
<g id="n-50712" class="gr"><circle cx="773" cy="1072" r="28"/><text x="773" y="1072">50712</text></g>
<g id="n-50713" class="gr"><circle cx="834" cy="1072" r="28"/><text x="834" y="1072">50713</text></g>
<g id="n-50668" class="gr"><circle cx="895" cy="1072" r="28"/><text x="895" y="1072">50668</text></g>
<g id="n-50665" class="gr"><circle cx="956" cy="1073" r="28"/><text x="956" y="1073">50665</text></g>
<g id="n-63490" class="gr"><circle cx="713" cy="1133" r="28"/><text x="713" y="1133">63490</text></g>
<g id="n-64285" class="gr"><circle cx="774" cy="1132" r="28"/><text x="774" y="1132">64285</text></g>
<g id="n-64284" class="gr"><circle cx="834" cy="1132" r="28"/><text x="834" y="1132">64284</text></g>
<g id="n-64304" class="gr"><circle cx="897" cy="1130" r="28"/><text x="897" y="1130">64304</text></g>
<g id="n-64394" class="gr"><circle cx="958" cy="1130" r="28"/><text x="958" y="1130">64394</text></g>
<g id="n-52007" class="gr"><circle cx="1027" cy="1162" r="28"/><text x="1027" y="1162">52007</text></g>
<g id="n-63366" class="gr"><circle cx="713" cy="1188" r="28"/><text x="713" y="1188">63366</text></g>
<g id="n-50666" class="gr"><circle cx="774" cy="1187" r="28"/><text x="774" y="1187">50666</text></g>
<g id="n-50815" class="gr"><circle cx="836" cy="1188" r="28"/><text x="836" y="1188">50815</text></g>
<g id="n-51541" class="gr"><circle cx="897" cy="1188" r="28"/><text x="897" y="1188">51541</text></g>
<g id="n-50661" class="gr"><circle cx="958" cy="1186" r="28"/><text x="958" y="1186">50661</text></g>
<g id="n-58887" class="gr"><circle cx="1029" cy="1224" r="28"/><text x="1029" y="1224">58887</text></g>
<g id="n-59900" class="gr"><circle cx="1212" cy="1224" r="28"/><text x="1212" y="1224">59900</text></g>
<g id="n-59898" class="gr"><circle cx="1283" cy="1230" r="28"/><text x="1283" y="1230">59898</text></g>
<g id="n-60881" class="gr"><circle cx="1336" cy="1257" r="28"/><text x="1336" y="1257">60881</text></g>
<g id="n-58804" class="gr"><circle cx="1107" cy="1256" r="28"/><text x="1107" y="1256">58804</text></g>
<g id="n-58803" class="gr"><circle cx="1064" cy="1296" r="28"/><text x="1064" y="1296">58803</text></g>
<g id="n-59707" class="gr"><circle cx="1150" cy="1297" r="28"/><text x="1150" y="1297">59707</text></g>
<g id="n-59926" class="gr"><circle cx="1283" cy="1288" r="28"/><text x="1283" y="1288">59926</text></g>
<g id="n-60924" class="gr"><circle cx="1212" cy="1325" r="28"/><text x="1212" y="1325">60924</text></g>
<g id="n-60925" class="gr"><circle cx="1337" cy="1317" r="28"/><text x="1337" y="1317">60925</text></g>
<g id="n-59956" class="gr"><circle cx="1284" cy="1344" r="28"/><text x="1284" y="1344">59956</text></g>
<g id="n-63367" class="gr"><circle cx="713" cy="1245" r="28"/><text x="713" y="1245">63367</text></g>
<g id="n-55232" class="gr"><circle cx="776" cy="1244" r="28"/><text x="776" y="1244">55232</text></g>
<g id="n-53357" class="gr"><circle cx="836" cy="1244" r="28"/><text x="836" y="1244">53357</text></g>
<g id="n-51542" class="gr"><circle cx="898" cy="1245" r="28"/><text x="898" y="1245">51542</text></g>
<g id="n-51633" class="gr"><circle cx="958" cy="1248" r="28"/><text x="958" y="1248">51633</text></g>
<g id="n-63368" class="gr"><circle cx="713" cy="1305" r="28"/><text x="713" y="1305">63368</text></g>
<g id="n-50670" class="gr"><circle cx="775" cy="1303" r="28"/><text x="775" y="1303">50670</text></g>
<g id="n-51545" class="gr"><circle cx="838" cy="1306" r="28"/><text x="838" y="1306">51545</text></g>
<g id="n-51547" class="gr"><circle cx="899" cy="1306" r="28"/><text x="899" y="1306">51547</text></g>
<g id="n-52500" class="gr"><circle cx="958" cy="1306" r="28"/><text x="958" y="1306">52500</text></g>
<g id="n-63369" class="gr"><circle cx="714" cy="1362" r="28"/><text x="714" y="1362">63369</text></g>
<g id="n-52470" class="gr"><circle cx="775" cy="1361" r="28"/><text x="775" y="1361">52470</text></g>
<g id="n-53610" class="gr"><circle cx="835" cy="1361" r="28"/><text x="835" y="1361">53610</text></g>
<g id="n-52506" class="gr"><circle cx="900" cy="1362" r="28"/><text x="900" y="1362">52506</text></g>
<g id="n-51544" class="gr"><circle cx="959" cy="1362" r="28"/><text x="959" y="1362">51544</text></g>
<g id="n-57744" class="gr"><circle cx="1030" cy="1363" r="28"/><text x="1030" y="1363">57744</text></g>
<g id="n-58900" class="gr"><circle cx="1088" cy="1363" r="28"/><text x="1088" y="1363">58900</text></g>
<g id="n-59925" class="gr"><circle cx="1155" cy="1363" r="28"/><text x="1155" y="1363">59925</text></g>
<g id="n-63415" class="gr"><circle cx="714" cy="1421" r="28"/><text x="714" y="1421">63415</text></g>
<g id="n-63622" class="gr"><circle cx="775" cy="1420" r="28"/><text x="775" y="1420">63622</text></g>
<g id="n-54008" class="gr"><circle cx="869" cy="1425" r="28"/><text x="869" y="1425">54008</text></g>
<g id="n-54009" class="gr"><circle cx="928" cy="1425" r="28"/><text x="928" y="1425">54009</text></g>
<g id="n-59204" class="gr"><circle cx="988" cy="1424" r="28"/><text x="988" y="1424">59204</text></g>
<g id="n-60853" class="ye"><circle cx="1117" cy="806" r="28"/><text x="1117" y="806">60853</text></g>
<g id="n-60851" class="ye"><circle cx="1176" cy="806" r="28"/><text x="1176" y="806">60851</text></g>
<g id="n-61809" class="ye"><circle cx="1275" cy="790" r="28"/><text x="1275" y="790">61809</text></g>
<g id="n-60812" class="ye"><circle cx="1248" cy="844" r="28"/><text x="1248" y="844">60812</text></g>
<g id="n-61053" class="ye"><circle cx="1317" cy="838" r="28"/><text x="1317" y="838">61053</text></g>
<g id="n-59915" class="ye"><circle cx="1173" cy="877" r="28"/><text x="1173" y="877">59915</text></g>
<g id="n-61637" class="ye"><circle cx="1247" cy="908" r="28"/><text x="1247" y="908">61637</text></g>
<g id="n-61823" class="ye"><circle cx="1317" cy="908" r="28"/><text x="1317" y="908">61823</text></g>
<g id="n-60863" class="ye"><circle cx="1107" cy="947" r="28"/><text x="1107" y="947">60863</text></g>
<g id="n-60864" class="ye"><circle cx="1173" cy="947" r="28"/><text x="1173" y="947">60864</text></g>
<g id="n-61606" class="ye"><circle cx="1278" cy="960" r="28"/><text x="1278" y="960">61606</text></g>
<g id="n-57945" class="gy"><circle cx="1091" cy="1024" r="28"/><text x="1091" y="1024">57945</text></g>
<g id="n-58967" class="gy"><circle cx="1151" cy="1025" r="28"/><text x="1151" y="1025">58967</text></g>
<g id="n-58906" class="gy"><circle cx="1207" cy="1024" r="28"/><text x="1207" y="1024">58906</text></g>
<g id="n-59875" class="gy"><circle cx="1286" cy="1024" r="28"/><text x="1286" y="1024">59875</text></g>
<g id="n-59871" class="gy"><circle cx="1207" cy="1086" r="28"/><text x="1207" y="1086">59871</text></g>
<g id="n-60020" class="gy"><circle cx="1286" cy="1086" r="28"/><text x="1286" y="1086">60020</text></g>
<g id="n-60810" class="gy"><circle cx="1350" cy="1086" r="28"/><text x="1350" y="1086">60810</text></g>
<g id="n-60972" class="gy"><circle cx="1145" cy="1151" r="28"/><text x="1145" y="1151">60972</text></g>
<g id="n-60883" class="gy"><circle cx="1207" cy="1151" r="28"/><text x="1207" y="1151">60883</text></g>
<g id="n-60022" class="gy"><circle cx="1286" cy="1150" r="28"/><text x="1286" y="1150">60022</text></g>
<g id="n-q6" class="lb q"><circle cx="51" cy="998" r="28"/><text x="51" y="998">?</text></g>
<g id="n-63139" class="lb"><circle cx="52" cy="1078" r="28"/><text x="52" y="1078">63139</text></g>
<g id="n-46850" class="lb"><circle cx="122" cy="1078" r="28"/><text x="122" y="1078">46850</text></g>
<g id="n-47284" class="lb"><circle cx="182" cy="1078" r="28"/><text x="182" y="1078">47284</text></g>
<g id="n-61050" class="lb"><circle cx="247" cy="1103" r="28"/><text x="247" y="1103">61050</text></g>
<g id="n-47477" class="lb"><circle cx="122" cy="1138" r="28"/><text x="122" y="1138">47477</text></g>
<g id="n-47695" class="lb"><circle cx="182" cy="1138" r="28"/><text x="182" y="1138">47695</text></g>
<g id="n-50683" class="lb"><circle cx="247" cy="1164" r="28"/><text x="247" y="1164">50683</text></g>
<g id="n-48343" class="lb"><circle cx="122" cy="1196" r="28"/><text x="122" y="1196">48343</text></g>
<g id="n-47715" class="lb"><circle cx="182" cy="1196" r="28"/><text x="182" y="1196">47715</text></g>
<g id="n-51330" class="lb"><circle cx="247" cy="1224" r="28"/><text x="247" y="1224">51330</text></g>
<g id="n-59741" class="lb"><circle cx="52" cy="1250" r="28"/><text x="52" y="1250">59741</text></g>
<g id="n-48510" class="lb"><circle cx="122" cy="1255" r="28"/><text x="122" y="1255">48510</text></g>
<g id="n-47694" class="lb"><circle cx="182" cy="1255" r="28"/><text x="182" y="1255">47694</text></g>
<g id="n-49324" class="lb"><circle cx="247" cy="1284" r="28"/><text x="247" y="1284">49324</text></g>
<g id="n-59741b" class="lb"><circle cx="62" cy="1314" r="28"/><text x="62" y="1314">59741</text></g>
<g id="n-61423" class="lb"><circle cx="122" cy="1314" r="28"/><text x="122" y="1314">61423</text></g>
<g id="n-48157" class="lb"><circle cx="182" cy="1315" r="28"/><text x="182" y="1315">48157</text></g>
<g id="n-58840" class="lb"><circle cx="234" cy="1428" r="28"/><text x="234" y="1428">58840</text></g>
<g id="n-59954" class="lb"><circle cx="293" cy="1428" r="28"/><text x="293" y="1428">59954</text></g>
<g id="n-64402" class="lb"><circle cx="353" cy="1428" r="28"/><text x="353" y="1428">64402</text></g>
<g id="n-60160" class="lb"><circle cx="414" cy="1428" r="28"/><text x="414" y="1428">60160</text></g>
<g id="n-60824" class="lb"><circle cx="209" cy="1480" r="28"/><text x="209" y="1480">60824</text></g>
<g id="n-60852" class="lb"><circle cx="268" cy="1480" r="28"/><text x="268" y="1480">60852</text></g>
<g id="n-61824" class="lb"><circle cx="328" cy="1480" r="28"/><text x="328" y="1480">61824</text></g>
<g id="n-61812" class="lb"><circle cx="388" cy="1480" r="28"/><text x="388" y="1480">61812</text></g>
<g id="n-61930" class="lb"><circle cx="238" cy="1531" r="28"/><text x="238" y="1531">61930</text></g>
<g id="n-61942" class="lb"><circle cx="297" cy="1533" r="28"/><text x="297" y="1533">61942</text></g>
<g id="n-61943" class="lb"><circle cx="357" cy="1533" r="28"/><text x="357" y="1533">61943</text></g>
<g id="n-62740" class="lb"><circle cx="417" cy="1533" r="28"/><text x="417" y="1533">62740</text></g>
<g id="n-63497" class="lb"><circle cx="209" cy="1584" r="28"/><text x="209" y="1584">63497</text></g>
<g id="n-63646" class="lb"><circle cx="268" cy="1584" r="28"/><text x="268" y="1584">63646</text></g>
<g id="n-64401" class="lb"><circle cx="328" cy="1584" r="28"/><text x="328" y="1584">64401</text></g>
<g id="n-63379" class="lb"><circle cx="388" cy="1584" r="28"/><text x="388" y="1584">63379</text></g>
<g id="n-61940" class="lb"><circle cx="238" cy="1635" r="28"/><text x="238" y="1635">61940</text></g>
<g id="n-62950" class="lb"><circle cx="298" cy="1635" r="28"/><text x="298" y="1635">62950</text></g>
<g id="n-64413" class="lb"><circle cx="358" cy="1635" r="28"/><text x="358" y="1635">64413</text></g>
<g id="n-67703" class="lb"><circle cx="418" cy="1635" r="28"/><text x="418" y="1635">67703</text></g>
<g id="n-62803" class="lb"><circle cx="162" cy="1661" r="28"/><text x="162" y="1661">62803</text></g>
<g id="n-64839" class="lb"><circle cx="218" cy="1690" r="28"/><text x="218" y="1690">64839</text></g>
<g id="n-64840" class="lb"><circle cx="275" cy="1690" r="28"/><text x="275" y="1690">64840</text></g>
<g id="n-65016" class="lb"><circle cx="332" cy="1690" r="28"/><text x="332" y="1690">65016</text></g>
<g id="n-64417" class="lb"><circle cx="388" cy="1690" r="28"/><text x="388" y="1690">64417</text></g>
<g id="n-63498" class="lb"><circle cx="160" cy="1721" r="28"/><text x="160" y="1721">63498</text></g>
<g id="n-64895" class="lb"><circle cx="445" cy="1724" r="28"/><text x="445" y="1724">64895</text></g>
<g id="n-q7" class="pu q"><circle cx="312" cy="1015" r="28"/><text x="312" y="1015">?</text></g>
<g id="n-62717" class="pu"><circle cx="380" cy="1024" r="28"/><text x="380" y="1024">62717</text></g>
<g id="n-62719" class="pu"><circle cx="439" cy="1024" r="28"/><text x="439" y="1024">62719</text></g>
<g id="n-61916" class="pu"><circle cx="499" cy="1024" r="28"/><text x="499" y="1024">61916</text></g>
<g id="n-59186" class="pu"><circle cx="558" cy="1025" r="28"/><text x="558" y="1025">59186</text></g>
<g id="n-57143" class="pu"><circle cx="383" cy="1118" r="28"/><text x="383" y="1118">57143</text></g>
<g id="n-57672" class="pu"><circle cx="443" cy="1118" r="28"/><text x="443" y="1118">57672</text></g>
<g id="n-57790" class="pu"><circle cx="502" cy="1118" r="28"/><text x="502" y="1118">57790</text></g>
<g id="n-57946" class="pu"><circle cx="563" cy="1118" r="28"/><text x="563" y="1118">57946</text></g>
<g id="n-61854" class="pu"><circle cx="318" cy="1151" r="28"/><text x="318" y="1151">61854</text></g>
<g id="n-58846" class="pu"><circle cx="383" cy="1175" r="28"/><text x="383" y="1175">58846</text></g>
<g id="n-58848" class="pu"><circle cx="443" cy="1175" r="28"/><text x="443" y="1175">58848</text></g>
<g id="n-58756" class="pu"><circle cx="502" cy="1175" r="28"/><text x="502" y="1175">58756</text></g>
<g id="n-59237" class="pu"><circle cx="563" cy="1175" r="28"/><text x="563" y="1175">59237</text></g>
<g id="n-60807" class="pu"><circle cx="319" cy="1222" r="28"/><text x="319" y="1222">60807</text></g>
<g id="n-59282" class="pu"><circle cx="383" cy="1231" r="28"/><text x="383" y="1231">59282</text></g>
<g id="n-58965" class="pu"><circle cx="443" cy="1231" r="28"/><text x="443" y="1231">58965</text></g>
<g id="n-59187" class="pu"><circle cx="502" cy="1231" r="28"/><text x="502" y="1231">59187</text></g>
<g id="n-59184" class="pu"><circle cx="563" cy="1231" r="28"/><text x="563" y="1231">59184</text></g>
<g id="n-62569" class="pu"><circle cx="322" cy="1289" r="28"/><text x="322" y="1289">62569</text></g>
<g id="n-59182" class="pu"><circle cx="384" cy="1288" r="28"/><text x="384" y="1288">59182</text></g>
<g id="n-59750" class="pu"><circle cx="446" cy="1288" r="28"/><text x="446" y="1288">59750</text></g>
<g id="n-59888" class="pu"><circle cx="505" cy="1288" r="28"/><text x="505" y="1288">59888</text></g>
<g id="n-60356" class="pu"><circle cx="565" cy="1288" r="28"/><text x="565" y="1288">60356</text></g>
<g id="n-60517" class="pu"><circle cx="635" cy="1068" r="28"/><text x="635" y="1068">60517</text></g>
<g id="n-59971" class="pu"><circle cx="635" cy="1124" r="28"/><text x="635" y="1124">59971</text></g>
<g id="n-58947" class="pu"><circle cx="635" cy="1181" r="28"/><text x="635" y="1181">58947</text></g>
<g id="n-63493" class="pu"><circle cx="635" cy="1240" r="28"/><text x="635" y="1240">63493</text></g>
<g id="n-61639" class="rd"><circle cx="619" cy="1554" r="28"/><text x="619" y="1554">61639</text></g>
<g id="n-61810" class="rd"><circle cx="678" cy="1554" r="28"/><text x="678" y="1554">61810</text></g>
<g id="n-61814" class="rd"><circle cx="738" cy="1554" r="28"/><text x="738" y="1554">61814</text></g>
<g id="n-61813" class="rd"><circle cx="798" cy="1554" r="28"/><text x="798" y="1554">61813</text></g>
<g id="n-63486" class="rd"><circle cx="592" cy="1606" r="28"/><text x="592" y="1606">63486</text></g>
<g id="n-64229" class="rd"><circle cx="652" cy="1606" r="28"/><text x="652" y="1606">64229</text></g>
<g id="n-64406" class="rd"><circle cx="712" cy="1606" r="28"/><text x="712" y="1606">64406</text></g>
<g id="n-64414" class="rd"><circle cx="772" cy="1606" r="28"/><text x="772" y="1606">64414</text></g>
<g id="n-64503" class="rd"><circle cx="562" cy="1659" r="28"/><text x="562" y="1659">64503</text></g>
<g id="n-64415" class="rd"><circle cx="622" cy="1657" r="28"/><text x="622" y="1657">64415</text></g>
<g id="n-64407" class="rd"><circle cx="681" cy="1660" r="28"/><text x="681" y="1660">64407</text></g>
<g id="n-64502" class="rd"><circle cx="742" cy="1660" r="28"/><text x="742" y="1660">64502</text></g>
<g id="n-64501" class="rd"><circle cx="802" cy="1660" r="28"/><text x="802" y="1660">64501</text></g>
<g id="n-seoul" class="ly k"><circle cx="978" cy="1487" r="28"/><text x="978" y="1480">서울<tspan x="978" dy="14">성북구</tspan></text></g>
<g id="n-36212" class="ly"><circle cx="1064" cy="1526" r="28"/><text x="1064" y="1526">36212</text></g>
<g id="n-36911" class="ly"><circle cx="1218" cy="1526" r="28"/><text x="1218" y="1526">36911</text></g>
<g id="n-45483" class="ly"><circle cx="1274" cy="1500" r="28"/><text x="1274" y="1500">45483</text></g>
<g id="n-45487" class="ly"><circle cx="1332" cy="1494" r="28"/><text x="1332" y="1494">45487</text></g>
<g id="n-45484" class="ly"><circle cx="1276" cy="1558" r="28"/><text x="1276" y="1558">45484</text></g>
<g id="n-45672" class="ly"><circle cx="1335" cy="1551" r="28"/><text x="1335" y="1551">45672</text></g>
<g id="n-36306" class="ly"><circle cx="1063" cy="1606" r="28"/><text x="1063" y="1606">36306</text></g>
<g id="n-36307" class="ly"><circle cx="1125" cy="1606" r="28"/><text x="1125" y="1606">36307</text></g>
<g id="n-36326" class="ly"><circle cx="1195" cy="1606" r="28"/><text x="1195" y="1606">36326</text></g>
<g id="n-36840" class="ly"><circle cx="1278" cy="1614" r="28"/><text x="1278" y="1614">36840</text></g>
<g id="n-45519" class="ly"><circle cx="1348" cy="1607" r="28"/><text x="1348" y="1607">45519</text></g>
<g id="n-64246" class="ly"><circle cx="1003" cy="1635" r="28"/><text x="1003" y="1635">64246</text></g>
<g id="n-47655" class="ly"><circle cx="1003" cy="1693" r="28"/><text x="1003" y="1693">47655</text></g>
<g id="n-42660" class="ly"><circle cx="1070" cy="1697" r="28"/><text x="1070" y="1697">42660</text></g>
<g id="n-42661" class="ly"><circle cx="1132" cy="1697" r="28"/><text x="1132" y="1697">42661</text></g>
<g id="n-36804" class="ly"><circle cx="1194" cy="1696" r="28"/><text x="1194" y="1696">36804</text></g>
<g id="n-38552" class="ly"><circle cx="1279" cy="1696" r="28"/><text x="1279" y="1696">38552</text></g>
</g>
</svg>
